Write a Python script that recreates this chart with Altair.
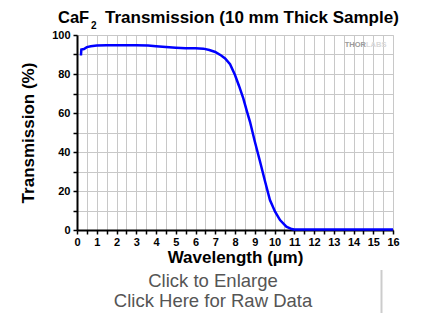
import altair as alt
import pandas as pd

# Data
wavelength = [0.20, 0.22, 0.35, 0.5, 0.7, 1.0, 1.5, 2.0, 2.5, 3.0, 3.6, 4.0, 4.5, 5.0,
              5.5, 6.0, 6.4, 6.7, 7.0, 7.3, 7.5, 7.75, 8.0, 8.2, 8.42, 8.6, 8.76,
              9.0, 9.27, 9.52, 9.77, 10.03, 10.28, 10.6, 10.87, 11.0, 12.0, 13.0,
              14.0, 15.0, 16.0]
transmission = [89.5, 92.5, 92.8, 93.8, 94.2, 94.6, 94.8, 94.8, 94.8, 94.8, 94.6, 94.2,
                93.8, 93.5, 93.2, 93.2, 93.0, 92.3, 91.3, 89.5, 88.0, 85.0, 79.5,
                74.0, 67.5, 61.0, 55.5, 45.5, 35.0, 25.0, 15.4, 9.4, 5.1, 1.7, 0.5,
                0.3, 0.3, 0.3, 0.3, 0.3, 0.3]

x_ticks = [i * 0.5 for i in range(33)]
y_ticks = [i * 10 for i in range(11)]

W, H = 316, 195

df = pd.DataFrame({"wl": wavelength, "t": transmission})

line = alt.Chart(df).mark_line(color="#0000ff", strokeWidth=2.5, interpolate="linear").encode(
    x=alt.X("wl:Q", scale=alt.Scale(domain=[0, 16], nice=False, zero=False),
            axis=alt.Axis(values=x_ticks, title="Wavelength (µm)",
                          labelExpr="datum.value % 1 == 0 ? format(datum.value, 'd') : ''",
                          labelOverlap=False,
                          grid=True, gridColor="#c8c8c8", gridWidth=1,
                          domainColor="black", domainWidth=2,
                          tickColor="black", tickSize=4, tickWidth=1.5,
                          labelFont="Liberation Sans", labelFontWeight="bold",
                          labelFontSize=11, labelColor="black", labelPadding=2,
                          labelFlush=False,
                          titleFont="Liberation Sans", titleFontWeight="bold",
                          titleFontSize=17, titleColor="black", titlePadding=2)),
    y=alt.Y("t:Q", scale=alt.Scale(domain=[0, 100], nice=False),
            axis=alt.Axis(values=y_ticks, title="Transmission (%)",
                          labelExpr="datum.value % 20 == 0 ? format(datum.value, 'd') : ''",
                          labelOverlap=False,
                          grid=True, gridColor="#c8c8c8", gridWidth=1,
                          domainColor="black", domainWidth=2,
                          tickColor="black", tickSize=4, tickWidth=1.5,
                          labelFont="Liberation Sans", labelFontWeight="bold",
                          labelFontSize=11, labelColor="black", labelPadding=3,
                          titleFont="Liberation Sans", titleFontWeight="bold",
                          titleFontSize=17, titleColor="black", titlePadding=14)),
)

def txt(s, x, y, size, color="black", weight="normal", align="left", baseline="middle", font="Liberation Sans"):
    return alt.Chart(pd.DataFrame({"s": [s]})).mark_text(
        align=align, baseline=baseline, fontSize=size, fontWeight=weight,
        color=color, font=font, clip=False
    ).encode(text="s:N", x=alt.value(x), y=alt.value(y))

ox, oy = 77, 35  # absolute position of plot origin (for annotation placement)

title1 = txt("CaF", 58 - ox, 18 - oy, 16.5, weight="bold")
title2 = txt("2", 91 - ox, 26 - oy, 10, weight="bold")
title3 = txt("Transmission (10 mm Thick Sample)", 105 - ox, 18 - oy, 17, weight="bold")

wm1 = txt("THOR", 366 - ox, 44.5 - oy, 7.5, color="#9a9a9a", weight="bold", align="right")
wm2 = txt("LABS", 366 - ox, 44.5 - oy, 7.5, color="#d8d8d8", weight="bold", align="left")

click1 = txt("Click to Enlarge", 213 - ox, 281 - oy, 18.5, color="#555555", align="center")
click2 = txt("Click Here for Raw Data", 213 - ox, 301 - oy, 18.5, color="#555555", align="center")

sep = alt.Chart(pd.DataFrame({"a": [0]})).mark_rule(color="#cccccc", strokeWidth=2, clip=False).encode(
    x=alt.value(381.5 - ox), y=alt.value(270 - oy), y2=alt.value(313 - oy))

chart = alt.layer(line, title1, title2, title3, wm1, wm2, click1, click2, sep).properties(
    width=W, height=H,
    autosize=alt.AutoSizeParams(type="none"),
    padding={"left": 69, "top": 27, "right": 29, "bottom": 85},
).configure_view(stroke="black", strokeWidth=2).configure(background="white")

chart.save("out.html", embed_options={"renderer": "svg", "actions": False})
